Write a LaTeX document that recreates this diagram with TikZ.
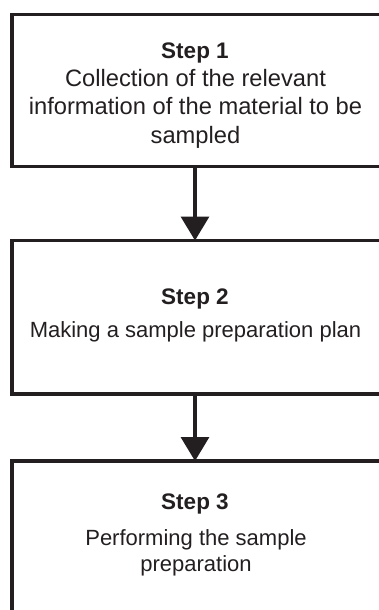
\documentclass[tikz,border=0pt]{standalone}
\usepackage{fontspec}
\setmainfont{Liberation Sans}
\usetikzlibrary{arrows.meta}
\definecolor{ink}{HTML}{231F20}
\begin{document}
\begin{tikzpicture}[x=1pt,y=-1pt,
  stepbox/.style={draw=ink, line width=3.3pt, rectangle, inner sep=0pt, outer sep=0pt, minimum width=370pt},
  steptitle/.style={anchor=base, inner sep=0pt, text=ink, font=\fontsize{22.5}{27}\selectfont\bfseries},
  bodybig/.style={anchor=base, inner sep=0pt, text=ink, font=\fontsize{23.7}{28}\selectfont},
  bodytext/.style={anchor=base, inner sep=0pt, text=ink, font=\fontsize{22}{27}\selectfont},
  conn/.style={draw=ink, line width=3.4pt, -{Triangle[width=28pt,length=24pt]}}
]
\useasboundingbox (0,0) rectangle (379,610);
% boxes
\node[stepbox, minimum height=152.2pt] (b1) at (197,90.4) {};
\node[stepbox, minimum height=153.5pt] (b2) at (197,317.25) {};
\node[stepbox, minimum height=180pt] (b3) at (197,551) {};
% box 1 text
\node[steptitle] (s1) at (195,58.3) {Step 1};
\node[bodybig] (t1a) at (195.5,86) {Collection of the relevant};
\node[bodybig] (t1b) at (195.5,114.5) {information of the material to be};
\node[bodybig] (t1c) at (195.5,143) {sampled};
% box 2 text
\node[steptitle] (s2) at (195,304) {Step 2};
\node[bodytext] (t2a) at (195.5,337.3) {Making a sample preparation plan};
% box 3 text
\node[steptitle] (s3) at (195,509) {Step 3};
\node[bodytext] (t3a) at (196,545) {Performing the sample};
\node[bodytext] (t3b) at (196,571.5) {preparation};
% connectors
\draw[conn] (b1.south -| s1) -- (b2.north -| s1);
\draw[conn] (b2.south -| s2) -- (b3.north -| s2);
\end{tikzpicture}
\end{document}
